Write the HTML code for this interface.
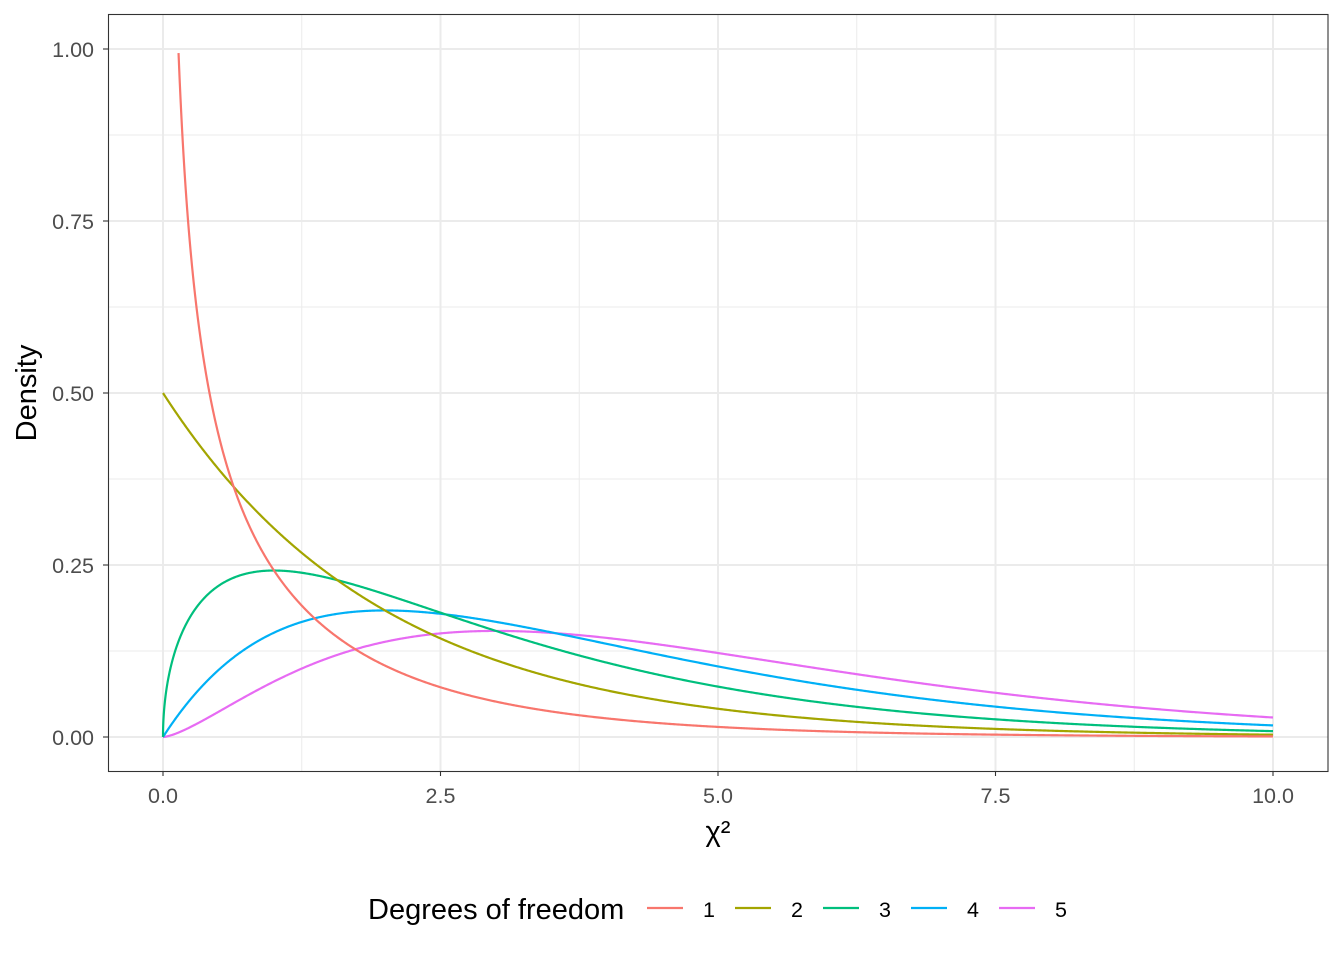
<!DOCTYPE html>
<html><head><meta charset="utf-8"><style>
html,body{margin:0;padding:0;background:#fff;}
svg{display:block;font-family:"Liberation Sans",Arial,sans-serif;}
</style></head><body>
<svg id="s" width="1344" height="960" viewBox="0 0 1344 960">
<rect x="0" y="0" width="1344" height="960" fill="#fff"/>
<g id="grid"></g>
<g id="curves" fill="none" stroke-width="2.2"></g>
<rect x="108.5" y="14.5" width="1219.5" height="757" fill="none" stroke="#333" stroke-width="1.1"/>
<g id="ticks" stroke="#333" stroke-width="1.1"></g>
<g font-size="21.5" fill="#4d4d4d" text-anchor="end">
<text x="94" y="57">1.00</text>
<text x="94" y="229">0.75</text>
<text x="94" y="401">0.50</text>
<text x="94" y="573">0.25</text>
<text x="94" y="745">0.00</text>
</g>
<g font-size="21.5" fill="#4d4d4d" text-anchor="middle">
<text x="163" y="803">0.0</text>
<text x="440.5" y="803">2.5</text>
<text x="718" y="803">5.0</text>
<text x="995.5" y="803">7.5</text>
<text x="1273" y="803">10.0</text>
</g>
<text x="718" y="841" font-size="29" text-anchor="middle" fill="#000">χ²</text>
<text transform="translate(36,393) rotate(-90)" font-size="29" text-anchor="middle" fill="#000">Density</text>
<text x="368" y="919" font-size="29" fill="#000">Degrees of freedom</text>
<g stroke-width="2.2">
<line x1="647" y1="908" x2="683" y2="908" stroke="#F8766D"/>
<line x1="735" y1="908" x2="771" y2="908" stroke="#A3A500"/>
<line x1="823" y1="908" x2="859" y2="908" stroke="#00BF7D"/>
<line x1="911" y1="908" x2="947" y2="908" stroke="#00B0F6"/>
<line x1="999" y1="908" x2="1035" y2="908" stroke="#E76BF3"/>
</g>
<g font-size="21.5" fill="#000" text-anchor="middle">
<text x="709" y="917">1</text>
<text x="797" y="917">2</text>
<text x="885" y="917">3</text>
<text x="973" y="917">4</text>
<text x="1061" y="917">5</text>
</g>
</svg>
<script>
(function(){
var ns="http://www.w3.org/2000/svg";
function X(v){return 163+111*v;}
function Y(v){return 737-688*v;}
function el(p,t,a){var e=document.createElementNS(ns,t);for(var k in a)e.setAttribute(k,a[k]);p.appendChild(e);return e;}
var g=document.getElementById('grid'),tk=document.getElementById('ticks');
var xs=[1.25,3.75,6.25,8.75],ys=[0.125,0.375,0.625,0.875];
xs.forEach(function(v){el(g,'line',{x1:X(v),x2:X(v),y1:14,y2:771,stroke:'#ebebeb','stroke-width':1});});
ys.forEach(function(v){el(g,'line',{x1:108,x2:1328,y1:Y(v),y2:Y(v),stroke:'#ebebeb','stroke-width':1});});
[0,2.5,5,7.5,10].forEach(function(v){el(g,'line',{x1:X(v),x2:X(v),y1:14,y2:771,stroke:'#ebebeb','stroke-width':2});el(tk,'line',{x1:X(v),x2:X(v),y1:771,y2:776});});
[0,0.25,0.5,0.75,1].forEach(function(v){el(g,'line',{x1:108,x2:1328,y1:Y(v),y2:Y(v),stroke:'#ebebeb','stroke-width':2});el(tk,'line',{x1:103,x2:108,y1:Y(v),y2:Y(v)});});
var s2p=Math.sqrt(2*Math.PI);
var f=[function(x){return Math.exp(-x/2)/Math.sqrt(2*Math.PI*x);},
function(x){return 0.5*Math.exp(-x/2);},
function(x){return Math.sqrt(x)*Math.exp(-x/2)/s2p;},
function(x){return x*Math.exp(-x/2)/4;},
function(x){return Math.pow(x,1.5)*Math.exp(-x/2)/(3*s2p);}];
var cols=["#F8766D","#A3A500","#00BF7D","#00B0F6","#E76BF3"];
var c=document.getElementById('curves');
for(var i=4;i>=0;i--){
 var d="",x0=(i==0?0.14:0),n=1000;
 for(var j=0;j<=n;j++){var x=x0+(10-x0)*Math.pow(j/n,1.5);var y=f[i](x);d+=(j?"L":"M")+X(x).toFixed(2)+","+Y(y).toFixed(2);}
 el(c,'path',{d:d,stroke:cols[i]});
}
})();
</script>
</body></html>
